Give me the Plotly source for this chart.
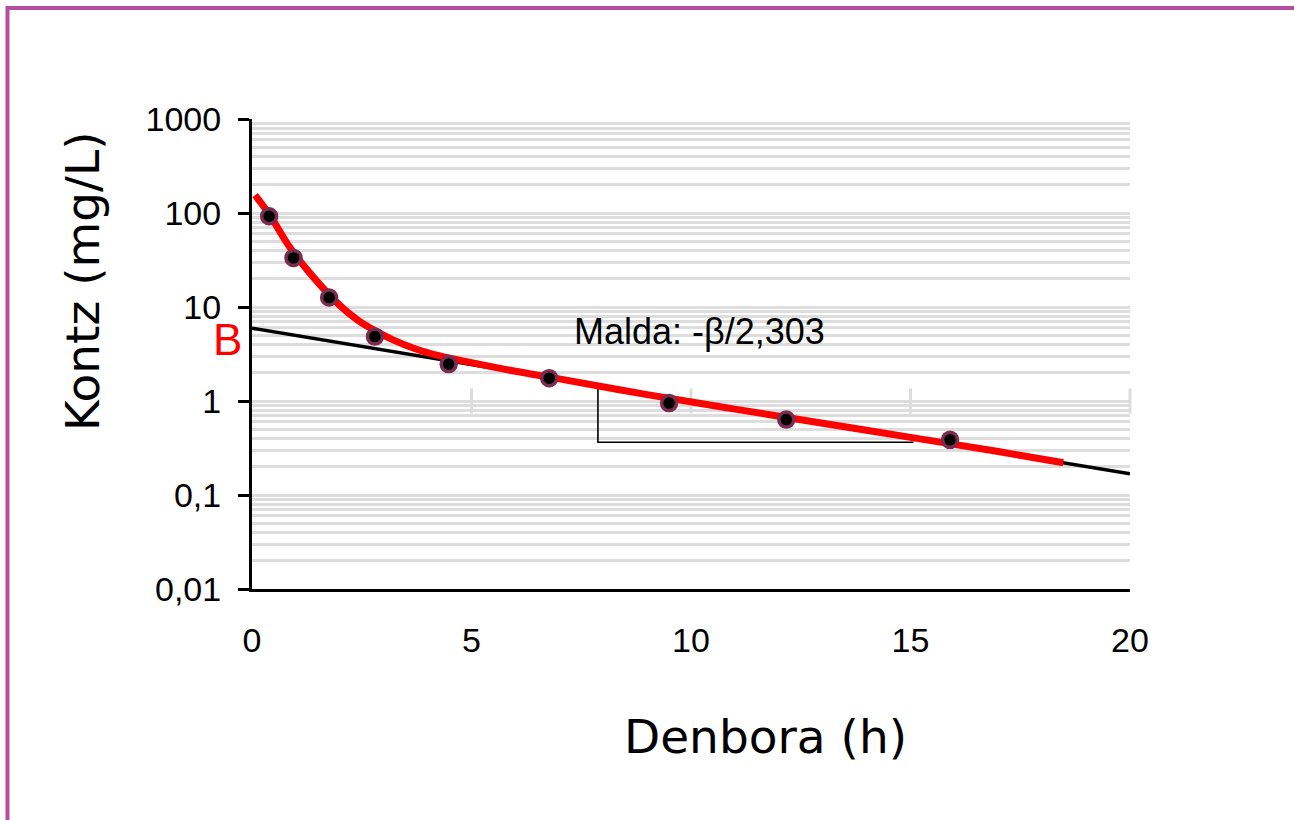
import plotly.graph_objects as go

# ---- data ----
time_h = [0.39, 0.945, 1.757, 2.80, 4.48, 6.77, 9.5, 12.17, 15.9]
conc = [92.3, 33.3, 12.6, 4.84, 2.47, 1.75, 0.95, 0.634, 0.386]

fit_t = [0.07, 0.4, 0.85, 1.3, 2.0, 2.4, 2.8, 3.2, 3.7, 4.3, 5.0, 6.0, 7.0, 9.0, 11.0, 13.0, 15.0, 17.0, 18.48]
fit_c = [155, 96, 44, 23.5, 10.4, 7.3, 5.6, 4.5, 3.62, 3.0, 2.56, 2.07, 1.72, 1.17, 0.82, 0.58, 0.41, 0.29, 0.22]

terminal_t = [0, 20]
terminal_c = [5.95, 0.168]

slope_t = [7.88, 7.88, 15.07]
slope_c = [1.46, 0.364, 0.364]

cross_tick_x = [5, 10, 15, 20]
cross_tick_y = [1, 1, 1, 1]

x_tickvals = [0, 5, 10, 15, 20]
x_ticktext = ["0", "5", "10", "15", "20"]
y_tickvals = [0.01, 0.1, 1, 10, 100, 1000]
y_ticktext = ["0,01", "0,1", "1", "10", "100", "1000"]
decades = [0.01, 0.1, 1, 10, 100]
minor_vals = [d * k for d in decades for k in range(2, 10)]

GRID = "#dddddd"

fig = go.Figure()

fig.add_trace(go.Scatter(x=cross_tick_x, y=cross_tick_y, mode="markers", cliponaxis=False,
                         marker=dict(symbol="line-ns", size=18, line=dict(width=3, color=GRID)),
                         hoverinfo="skip"))
fig.add_trace(go.Scatter(x=terminal_t, y=terminal_c, mode="lines",
                         line=dict(color="black", width=3.5)))
fig.add_trace(go.Scatter(x=slope_t, y=slope_c, mode="lines",
                         line=dict(color="black", width=1.6)))
fig.add_trace(go.Scatter(x=fit_t, y=fit_c, mode="lines",
                         line=dict(color="#ff0000", width=7, shape="spline", smoothing=1.0)))
fig.add_trace(go.Scatter(x=time_h, y=conc, mode="markers",
                         marker=dict(color="black", size=15, line=dict(color="#7b2d4f", width=3.5))))

fig.update_layout(
    width=1294, height=820,
    margin=dict(l=252, r=164, t=119, b=231),
    paper_bgcolor="white", plot_bgcolor="white",
    showlegend=False,
    xaxis=dict(range=[0, 20], showline=True, linecolor="black", linewidth=3,
               showgrid=False, zeroline=False, ticks="",
               tickvals=x_tickvals, ticktext=x_ticktext,
               tickfont=dict(family="Liberation Sans", size=34, color="black"),
               ticklabelstandoff=19),
    yaxis=dict(type="log", range=[-2, 3], showline=True, linecolor="black", linewidth=3,
               ticks="outside", ticklen=11, tickwidth=3, tickcolor="black",
               showgrid=True, gridcolor=GRID, gridwidth=3, zeroline=False,
               minor=dict(tickvals=minor_vals, showgrid=True, gridcolor=GRID, gridwidth=3, ticks=""),
               tickvals=y_tickvals, ticktext=y_ticktext,
               tickfont=dict(family="Liberation Sans", size=34, color="black"),
               ticklabelstandoff=10),
    shapes=[dict(type="rect", xref="paper", yref="paper",
                 x0=(7.5 - 252) / 878, x1=(1400 - 252) / 878,
                 y0=(588.7 - 1000) / 469.4, y1=(588.7 - 8.5) / 469.4,
                 line=dict(color="#b64f9f", width=4))],
    annotations=[
        dict(text="Malda: -β/2,303", x=10.2, y=0.737, xref="x", yref="y", showarrow=False,
             xanchor="center", yanchor="middle",
             font=dict(family="Liberation Sans", size=36, color="black")),
        dict(text="B", x=(227 - 252) / 878, y=0.655, xref="paper", yref="y", showarrow=False,
             xanchor="center", yanchor="middle",
             font=dict(family="Liberation Sans", size=44, color="#ff0000")),
        dict(text="Denbora (h)", x=(765 - 252) / 878, y=(588.7 - 736) / 469.4,
             xref="paper", yref="paper", showarrow=False, xanchor="center", yanchor="middle",
             font=dict(family="DejaVu Sans", size=47, color="black")),
        dict(text="Kontz (mg/L)", x=(83 - 252) / 878, y=(588.7 - 282) / 469.4,
             xref="paper", yref="paper", showarrow=False, textangle=-90,
             xanchor="center", yanchor="middle",
             font=dict(family="DejaVu Sans", size=47, color="black")),
    ],
)

fig.write_html("out.html")
